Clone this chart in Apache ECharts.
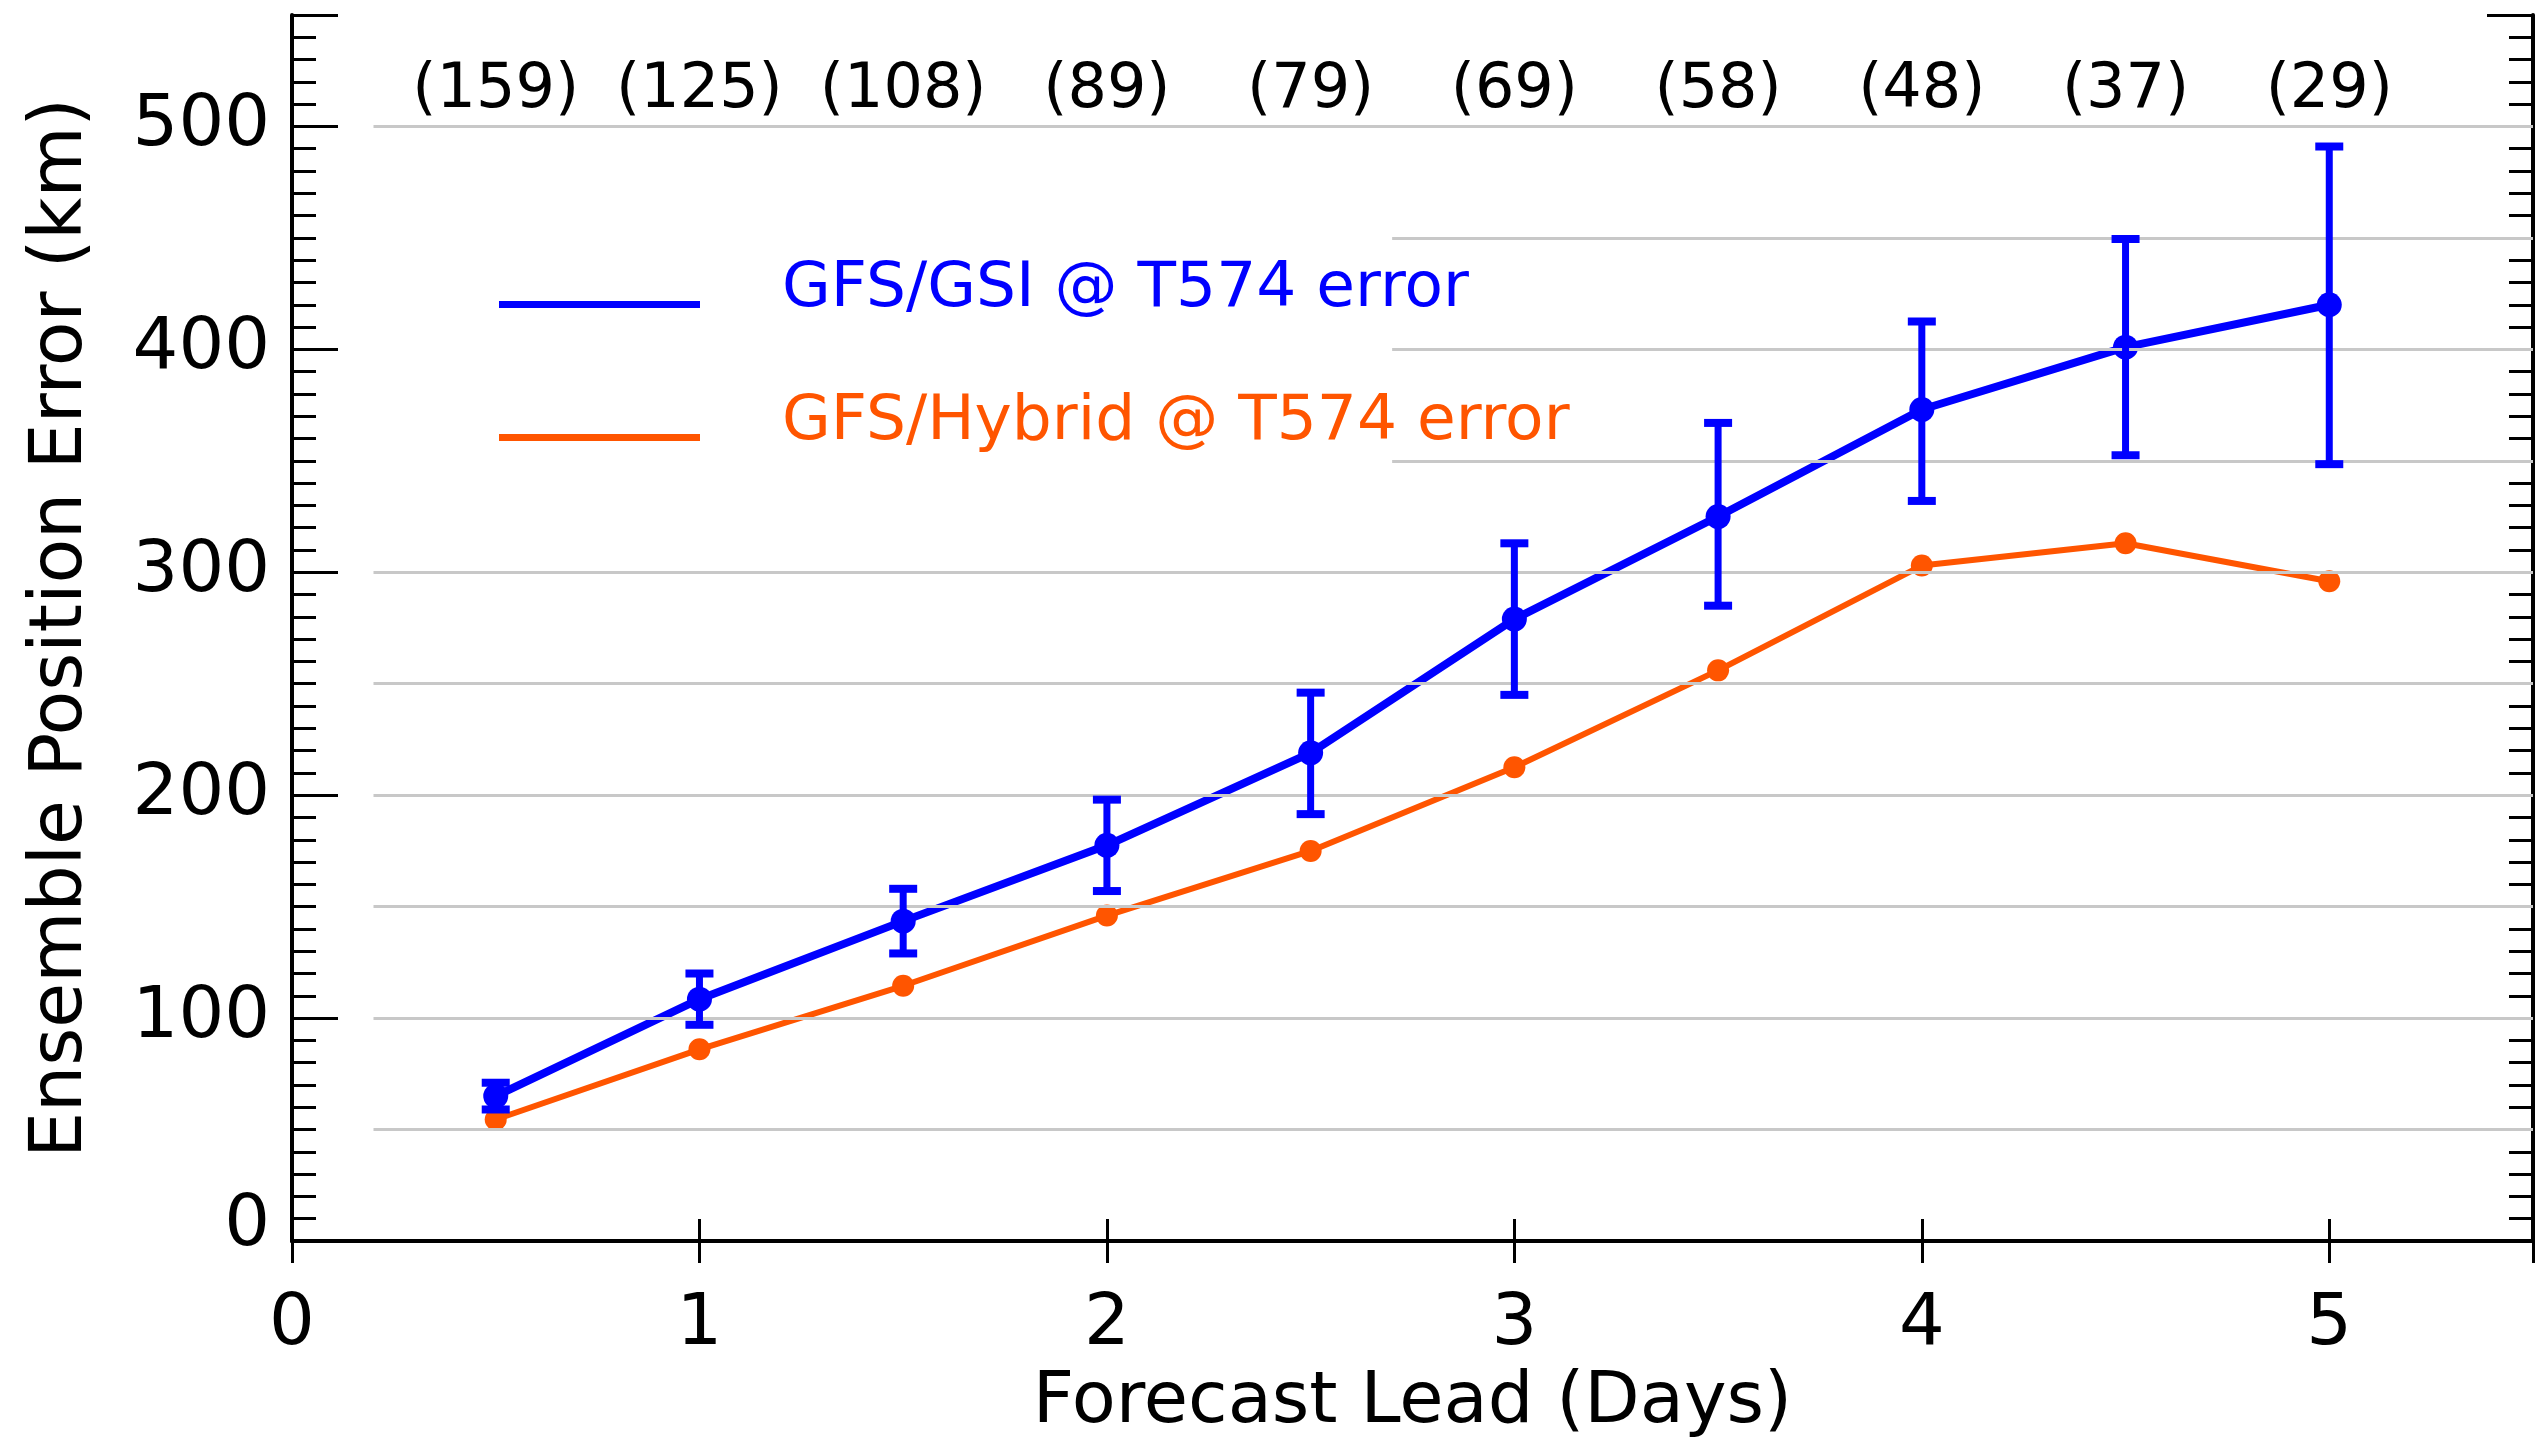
<!DOCTYPE html>
<html>
<head>
<meta charset="utf-8">
<script src="https://cdn.jsdelivr.net/npm/echarts@6/dist/echarts.min.js"></script>
<style>html,body{margin:0;padding:0;background:#fff}#chart{width:2548px;height:1449px}</style>
</head>
<body>
<div id="chart"></div>
<script>
// forecast lead (days) and the values
const days = [0.5, 1, 1.5, 2, 2.5, 3, 3.5, 4, 4.5, 5];
const gsiError = [65, 108.5, 143.5, 177.5, 219, 279, 325, 373, 401, 420];
const gsiLow = [59, 97, 129, 157, 191.5, 245, 285, 332, 352.5, 348.5];
const gsiHigh = [71, 120, 158, 198, 246, 313, 367, 412.5, 449.5, 491];
const hybridError = [54.5, 86, 114.5, 146, 175, 212.5, 256, 303, 313, 296];
const caseCounts = [159, 125, 108, 89, 79, 69, 58, 48, 37, 29];
const gridLevels = [50, 100, 150, 200, 250, 300, 350, 400, 450, 500];
const countLevel = 516;

const BLUE = '#0000ff', ORANGE = '#ff5500', FONT = 'DejaVu Sans';
const gsiName = 'GFS/GSI @ T574 error';
const hybName = 'GFS/Hybrid @ T574 error';

// grid lines start a bit right of the axis; behind the legend they start later
function gridStart(v) {
  return (v >= 350 && v <= 450) ? 2.7 : 0.2;
}

const frame = {show: true, lineStyle: {color: '#000', width: 4}};

function xAxisOf(pos, labels) {
  return {
    type: 'value', position: pos, min: 0, max: 5.5, interval: 1,
    axisLine: frame,
    axisTick: {show: true, inside: true, length: 22, lineStyle: {color: '#000', width: 3}},
    axisLabel: {show: labels, showMaxLabel: false, margin: 48, color: '#000', fontFamily: FONT, fontSize: 72},
    splitLine: {show: false},
    name: labels ? 'Forecast Lead (Days)' : '',
    nameLocation: 'middle', nameGap: 126,
    nameTextStyle: {color: '#000', fontFamily: FONT, fontSize: 72}
  };
}

function yAxisOf(pos, major, labels) {
  return {
    type: 'value', position: pos, min: 0, max: 550, interval: major ? 100 : 10,
    axisLine: major ? frame : {show: false},
    axisTick: {show: true, inside: true, length: major ? 46 : 24, lineStyle: {color: '#000', width: 3}},
    axisLabel: {
      show: labels, margin: 22, color: '#000', fontFamily: FONT, fontSize: 72,
      formatter: v => v > 500 ? '' : (v === 0 ? '{z|0}' : String(v)),
      rich: {z: {fontFamily: FONT, fontSize: 72, color: '#000', padding: [0, 0, 30, 0]}}
    },
    splitLine: {show: false},
    name: labels ? 'Ensemble Position Error (km)' : '',
    nameLocation: 'middle', nameGap: 193,
    nameTextStyle: {color: '#000', fontFamily: FONT, fontSize: 73}
  };
}

const chart = echarts.init(document.getElementById('chart'));
chart.setOption({
  animation: false,
  backgroundColor: '#fff',
  grid: {left: 292, right: 15, top: 15, bottom: 208, show: false},
  legend: {
    data: [
      {name: gsiName, textStyle: {color: BLUE}, itemStyle: {color: BLUE}, lineStyle: {opacity: 0}},
      {name: hybName, textStyle: {color: ORANGE}, itemStyle: {color: ORANGE}, lineStyle: {opacity: 0}}
    ],
    orient: 'vertical', left: 499, top: 258, padding: 0,
    icon: 'rect', itemWidth: 201, itemHeight: 7, itemGap: 40,
    selectedMode: false,
    formatter: n => '{t|' + n + '}',
    textStyle: {
      fontFamily: FONT, fontSize: 63,
      rich: {t: {fontFamily: FONT, fontSize: 63, lineHeight: 64, padding: [0, 0, 30, 77]}}
    }
  },
  xAxis: [xAxisOf('bottom', true), xAxisOf('top', false)],
  yAxis: [yAxisOf('left', true, true), yAxisOf('left', false, false),
          yAxisOf('right', true, false), yAxisOf('right', false, false)],
  series: [
    {
      // case counts above each lead time, plus the light grid lines
      type: 'custom', name: 'counts', z: 1, silent: true,
      data: days.map((d, i) => [d, countLevel, caseCounts[i]]),
      encode: {x: 0, y: 1},
      renderItem: (params, api) => {
        const p = api.coord([api.value(0), api.value(1)]);
        return {
          type: 'text',
          style: {
            x: p[0], y: p[1], text: '(' + api.value(2) + ')',
            fill: '#000', font: '62px "DejaVu Sans"',
            align: 'center', verticalAlign: 'middle'
          }
        };
      },
      markLine: {
        silent: true, symbol: 'none', animation: false,
        label: {show: false},
        lineStyle: {color: '#c8c8c8', width: 3, type: 'solid'},
        data: gridLevels.map(v => [{coord: [gridStart(v), v]}, {coord: [5.5, v]}])
      }
    },
    {
      type: 'line', name: hybName, z: 3,
      data: days.map((d, i) => [d, hybridError[i]]),
      symbol: 'circle', symbolSize: 22,
      lineStyle: {color: ORANGE, width: 6},
      itemStyle: {color: ORANGE}
    },
    {
      type: 'line', name: gsiName, z: 4,
      data: days.map((d, i) => [d, gsiError[i]]),
      symbol: 'circle', symbolSize: 25,
      lineStyle: {color: BLUE, width: 8},
      itemStyle: {color: BLUE}
    },
    {
      type: 'custom', name: 'gsi spread', z: 5,
      data: days.map((d, i) => [d, gsiLow[i], gsiHigh[i]]),
      encode: {x: 0, y: [1, 2]},
      renderItem: (params, api) => {
        const x = api.value(0);
        const lo = api.coord([x, api.value(1)]);
        const hi = api.coord([x, api.value(2)]);
        const half = 14;
        const bar = {stroke: BLUE, lineWidth: 7};
        const cap = {stroke: BLUE, lineWidth: 8};
        return {
          type: 'group',
          children: [
            {type: 'line', shape: {x1: lo[0], y1: lo[1], x2: hi[0], y2: hi[1]}, style: bar},
            {type: 'line', shape: {x1: lo[0] - half, y1: lo[1], x2: lo[0] + half, y2: lo[1]}, style: cap},
            {type: 'line', shape: {x1: hi[0] - half, y1: hi[1], x2: hi[0] + half, y2: hi[1]}, style: cap}
          ]
        };
      }
    }
  ]
});
</script>
</body>
</html>
